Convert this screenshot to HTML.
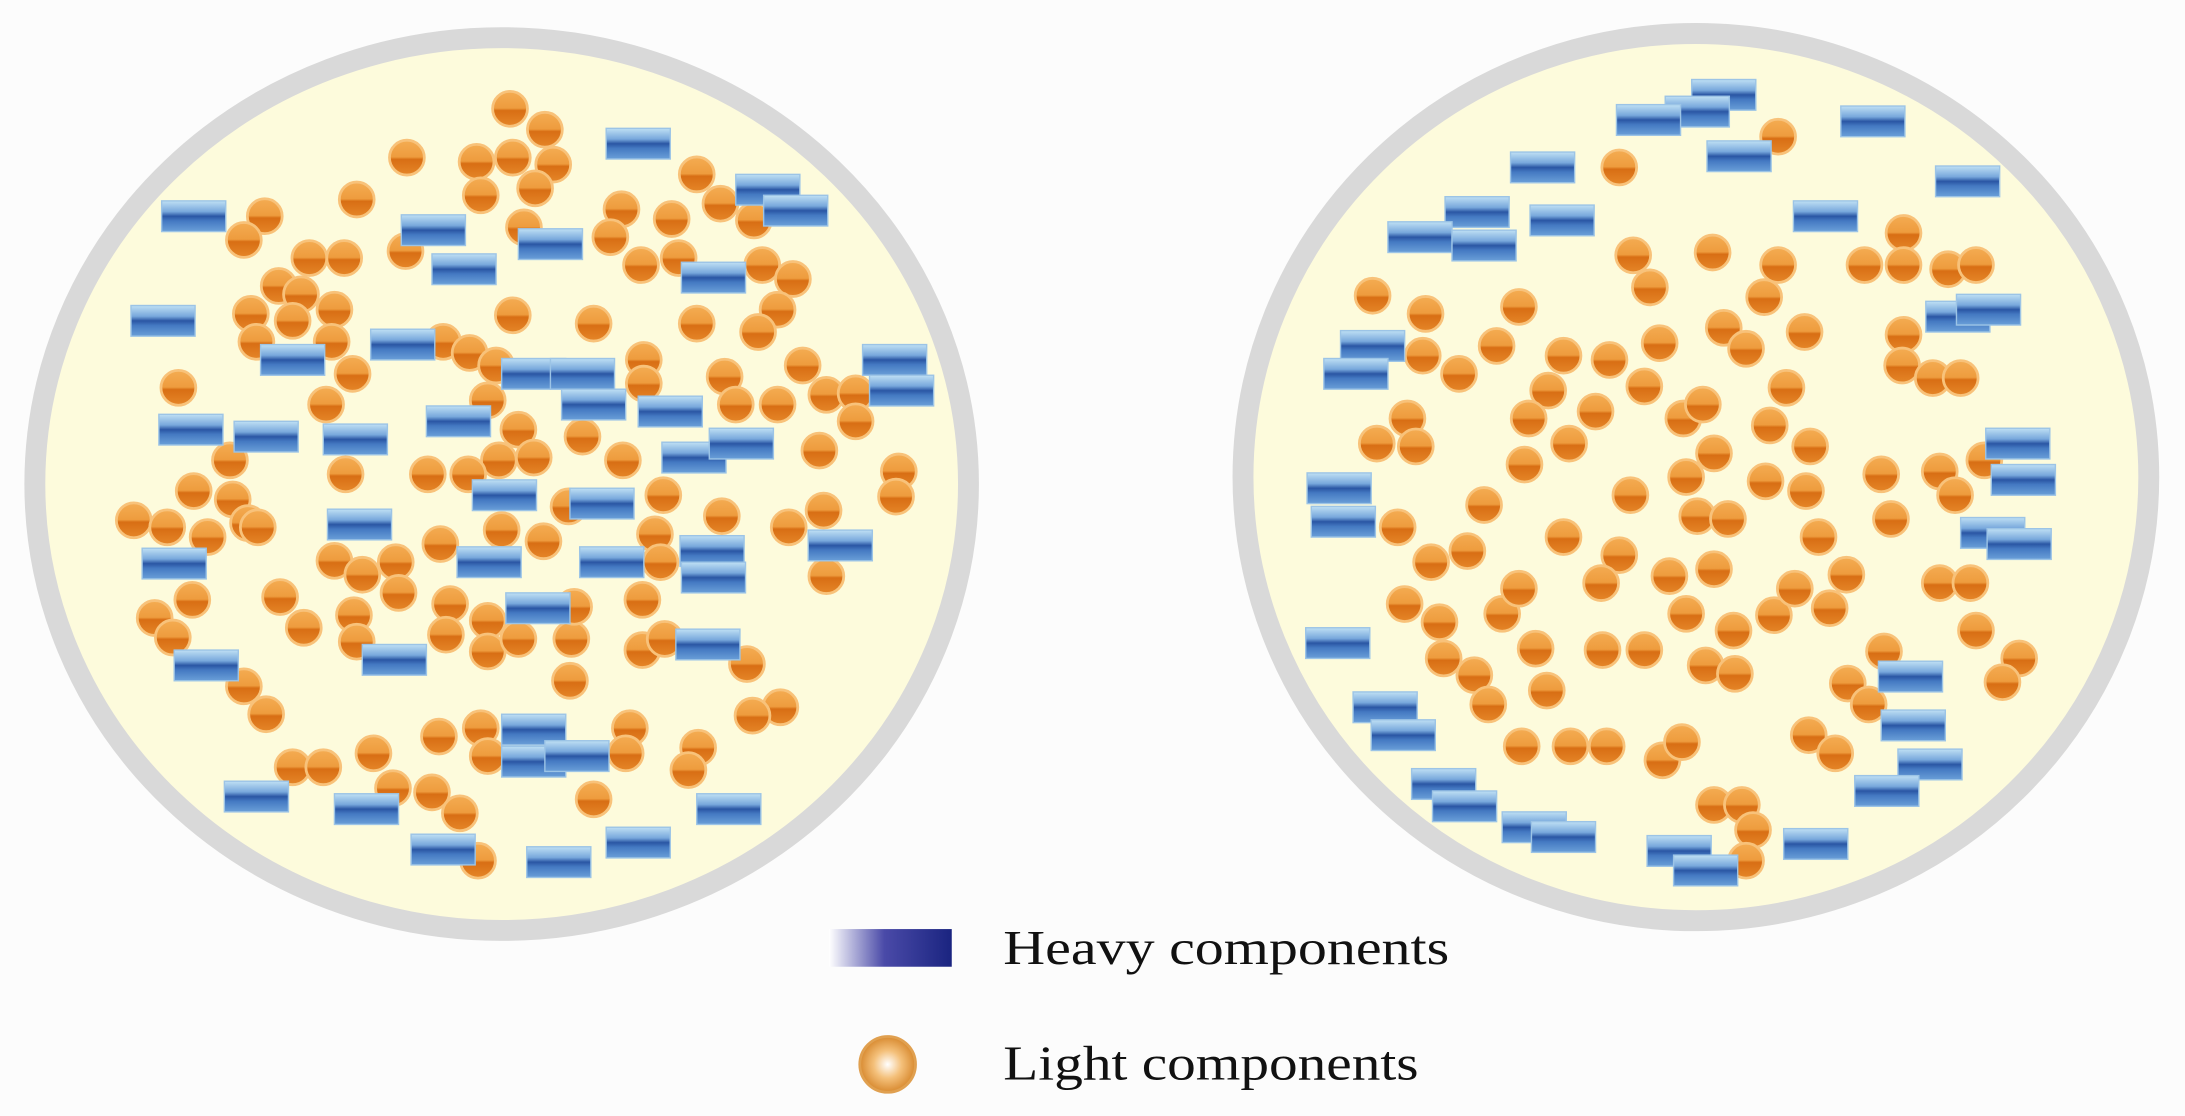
<!DOCTYPE html>
<html><head><meta charset="utf-8"><style>
html,body{margin:0;padding:0;background:#fcfcfc;}
svg{display:block;}
</style></head><body>
<svg width="2185" height="1116" viewBox="0 0 1568 800" preserveAspectRatio="none" xmlns="http://www.w3.org/2000/svg">
<defs>
<linearGradient id="rg" x1="0" y1="0" x2="0" y2="1">
<stop offset="0" stop-color="#bfe0f4"/><stop offset="0.35" stop-color="#78a8dc"/>
<stop offset="0.5" stop-color="#2a56a4"/><stop offset="0.65" stop-color="#4479c2"/>
<stop offset="1" stop-color="#6a9fd8"/></linearGradient>
<linearGradient id="cg" x1="0" y1="0" x2="0" y2="1">
<stop offset="0" stop-color="#f4ac52"/><stop offset="0.48" stop-color="#ee9c3e"/>
<stop offset="0.55" stop-color="#d86e14"/><stop offset="1" stop-color="#e58628"/></linearGradient>
<linearGradient id="lg" x1="0" y1="0" x2="1" y2="0">
<stop offset="0" stop-color="#ffffff"/><stop offset="0.45" stop-color="#4a4aa8"/><stop offset="1" stop-color="#1a2480"/></linearGradient>
<radialGradient id="lc" cx="0.5" cy="0.5" r="0.5">
<stop offset="0" stop-color="#ffffff"/><stop offset="0.5" stop-color="#f4c07a"/><stop offset="1" stop-color="#d88a30"/></radialGradient>
</defs>
<rect width="1568" height="800" fill="#fcfcfc"/>
<ellipse cx="360" cy="347" rx="335" ry="320" fill="#fdfbdc" stroke="#d9d9d9" stroke-width="15"/>
<ellipse cx="1217" cy="342" rx="325" ry="318" fill="#fdfbdc" stroke="#d9d9d9" stroke-width="15"/>
<g id="items"></g>
<rect x="595" y="666" width="88" height="27" fill="url(#lg)"/>
<text x="720" y="691" font-family="Liberation Serif, serif" font-size="35" fill="#111" textLength="320" lengthAdjust="spacingAndGlyphs">Heavy components</text>
<circle cx="637" cy="763" r="20" fill="url(#lc)" stroke="#e0a050" stroke-width="2"/>
<text x="720" y="774" font-family="Liberation Serif, serif" font-size="35" fill="#111" textLength="298" lengthAdjust="spacingAndGlyphs">Light components</text>
</svg>
<script>
const C=[[366,78],[391,93],[292,113],[342,116],[368,113],[397,118],[345,140],[256,143],[384,135],[190,155],[175,172],[222,185],[247,185],[291,180],[376,163],[446,150],[438,170],[482,157],[500,125],[517,146],[541,158],[460,190],[487,185],[547,190],[569,200],[558,222],[544,238],[500,232],[426,232],[368,226],[200,205],[216,211],[180,225],[210,230],[240,222],[184,245],[238,245],[253,268],[318,245],[337,253],[356,262],[128,278],[234,290],[350,287],[462,258],[462,275],[520,270],[528,290],[558,290],[576,262],[593,283],[614,282],[614,302],[588,323],[645,338],[643,356],[418,313],[372,308],[358,330],[383,328],[336,340],[307,340],[248,340],[165,330],[139,352],[167,358],[178,375],[149,385],[96,373],[120,378],[185,378],[360,380],[316,390],[390,388],[408,363],[476,355],[518,370],[447,330],[470,383],[474,403],[566,378],[591,366],[593,413],[240,402],[260,412],[284,403],[286,425],[201,428],[218,450],[138,430],[111,443],[124,457],[254,441],[256,460],[323,433],[320,455],[350,445],[350,467],[372,458],[410,458],[412,435],[461,430],[461,466],[477,458],[536,476],[409,488],[175,492],[191,512],[560,507],[540,513],[452,522],[501,536],[494,552],[345,522],[350,542],[449,540],[315,528],[268,540],[210,550],[232,550],[282,565],[310,568],[330,583],[426,573],[343,617],
[1276,98],[1162,120],[985,212],[1023,225],[1090,220],[1021,255],[1047,268],[1074,248],[1122,255],[1155,258],[1191,246],[1111,280],[1180,277],[1172,183],[1184,206],[1229,181],[1276,190],[1266,213],[1237,235],[1253,250],[1295,238],[1338,190],[1366,167],[1366,190],[1398,193],[1418,190],[1366,240],[1365,262],[1387,271],[1407,271],[1010,300],[988,318],[1016,320],[1097,300],[1145,295],[1126,318],[1208,300],[1222,290],[1282,278],[1270,305],[1299,320],[1230,325],[1210,342],[1094,333],[1170,355],[1065,362],[1003,378],[1027,403],[1053,395],[1122,385],[1162,398],[1218,370],[1240,372],[1267,345],[1296,352],[1305,385],[1350,340],[1357,372],[1392,338],[1403,355],[1424,330],[1008,433],[1033,446],[1078,440],[1090,422],[1149,418],[1198,413],[1230,408],[1210,440],[1244,452],[1273,441],[1288,422],[1325,412],[1313,436],[1392,418],[1414,418],[1418,452],[1449,472],[1437,489],[1036,472],[1058,484],[1068,505],[1102,465],[1110,495],[1150,466],[1180,466],[1224,477],[1245,483],[1326,490],[1341,505],[1352,467],[1092,535],[1127,535],[1153,535],[1193,545],[1207,532],[1298,527],[1317,540],[1230,577],[1250,577],[1258,595],[1253,617]];
const R=[[458,103],[139,155],[551,136],[571,151],[311,165],[395,175],[333,193],[512,199],[117,230],[289,247],[210,258],[383,268],[418,268],[426,290],[481,295],[642,258],[647,280],[137,308],[191,313],[255,315],[329,302],[498,328],[532,318],[362,355],[432,361],[258,376],[125,404],[351,403],[439,403],[511,395],[512,414],[603,391],[386,436],[148,477],[283,473],[508,462],[383,523],[383,546],[414,542],[184,571],[263,580],[523,580],[318,609],[401,618],[458,604],
[1237,68],[1218,80],[1183,86],[1344,87],[1248,112],[1107,120],[1412,130],[1060,152],[1121,158],[1310,155],[1019,170],[1065,176],[1405,227],[1427,222],[985,248],[973,268],[1448,318],[1452,344],[961,350],[964,374],[1430,382],[1449,390],[960,461],[1371,485],[994,507],[1007,527],[1373,520],[1385,548],[1354,567],[1036,562],[1051,578],[1101,593],[1122,600],[1205,610],[1224,624],[1303,605]];
let s='';
for(const [x,y] of C) s+=`<circle cx="${x}" cy="${y}" r="12.5" fill="url(#cg)" stroke="#f8c27a" stroke-width="2"/>`;
for(const [x,y] of R) s+=`<rect x="${x-23}" y="${y-11}" width="46" height="22" fill="url(#rg)" stroke="#9cc4e6" stroke-width="1"/>`;
document.getElementById('items').innerHTML=s;
</script>
</body></html>
